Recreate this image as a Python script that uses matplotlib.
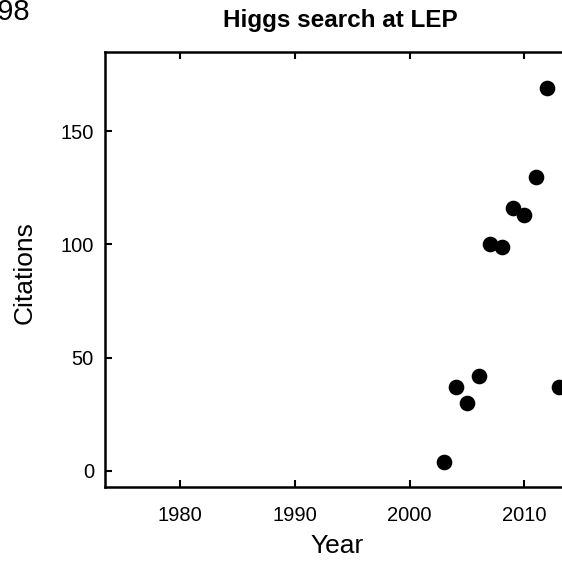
import matplotlib
matplotlib.use("Agg")
import matplotlib.pyplot as plt

years = [2003, 2004, 2005, 2006, 2007, 2008, 2009, 2010, 2011, 2012, 2013]
citations = [4, 37, 30, 42, 100, 99, 116, 113, 130, 169, 37]
xticks = [1980, 1990, 2000, 2010]
yticks = [0, 50, 100, 150]

plt.rcParams['font.family'] = ['Liberation Sans', 'DejaVu Sans']

W, H = 562, 578
fig = plt.figure(figsize=(W/100, H/100), dpi=100)
ax = fig.add_axes([105/W, 1-487/H, (575-105)/W, (487-52)/H])
ax.scatter(years, citations, s=105, color='black', zorder=3, clip_on=True)
ax.set_xlim(1973.45, 2014.4)
ax.set_ylim(-7.1, 185)
ax.set_xticks(xticks)
ax.set_yticks(yticks)
ax.tick_params(direction='in', length=5, width=1.5, labelsize=14.5,
               top=True, right=True)
ax.tick_params(axis='x', pad=14)
ax.tick_params(axis='y', pad=8)
for s in ax.spines.values():
    s.set_linewidth(1.8)
ax.set_xlabel('Year', fontsize=19, va='center')
ax.set_ylabel('Citations', fontsize=19, va='center')
ax.xaxis.set_label_coords(337/W, 1-546/H, transform=fig.transFigure)
ax.yaxis.set_label_coords(25/W, 1-273/H, transform=fig.transFigure)
fig.text(340/W, 1-21/H, 'Higgs search at LEP', fontsize=17.5, fontweight='bold',
         ha='center', va='center')
fig.text(30/W, 1-12/H, '1998', fontsize=21, ha='right', va='center')
fig.savefig('out.png', dpi=100)
